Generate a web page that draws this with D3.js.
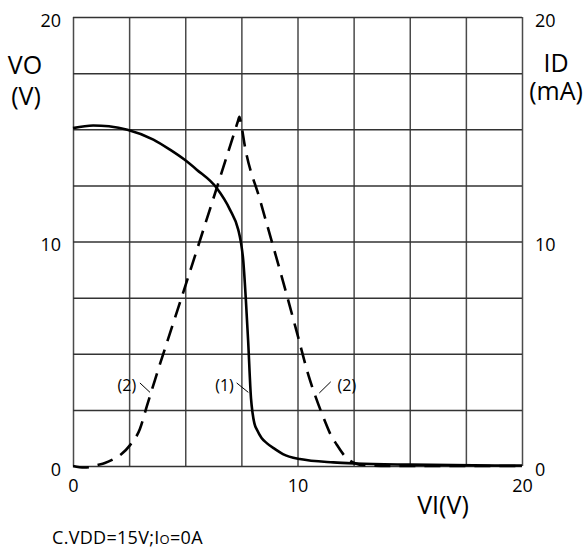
<!DOCTYPE html>
<html>
<head>
<meta charset="utf-8">
<script src="https://cdn.jsdelivr.net/npm/d3@7"></script>
<style>
  body { margin: 0; background: #fff; }
  text { font-family: "Open Sans", sans-serif; fill: #000; }
</style>
</head>
<body>
<svg id="chart" width="587" height="551"></svg>
<script>
// curve (1): output voltage VO (V) vs input VI (V)
var vo_vi = [0, 0.9, 1.6, 2.42, 3.58, 4.32, 4.96, 5.51, 6.4, 6.99, 7.36, 7.48, 7.58, 7.7, 7.8, 7.93, 8.0, 8.08, 8.2, 8.4, 8.63, 9.0, 9.35, 10.1, 11.6, 12.6, 15, 20];
var vo = [15.05, 15.17, 15.13, 14.98, 14.54, 14.09, 13.65, 13.2, 12.38, 11.42, 10.53, 9.96, 9.19, 7.4, 5.6, 3.0, 2.35, 1.9, 1.6, 1.25, 1.02, 0.75, 0.53, 0.31, 0.16, 0.11, 0.06, 0.02];

// curve (2): drain current ID (mA) vs VI (V)
var id_vi = [0, 0.5, 0.82, 1.0, 1.42, 1.8, 2.16, 2.55, 2.98, 3.3, 3.65, 4.9, 5.8, 7.35, 7.41, 7.47, 7.66, 8.33, 9.5, 10.0, 10.5, 10.8, 11.2, 11.5, 11.75, 12.1, 12.56, 13.0, 14, 20];
var id = [0, -0.07, -0.04, 0.02, 0.13, 0.3, 0.53, 0.94, 1.65, 2.7, 3.83, 7.7, 10.5, 15.37, 15.56, 15.33, 14.22, 11.85, 7.7, 5.85, 4.0, 3.1, 2.05, 1.35, 0.95, 0.45, 0.12, 0.03, 0, 0];

var gridTicks = [0, 2.5, 5, 7.5, 10, 12.5, 15, 17.5, 20];
var labelTicks = [0, 10, 20];

// curve labels: text position and leader line, in data units
var notes = [
  { text: "(2)", tx: 2.4, ty: 3.6, x1: 2.98, y1: 3.7, x2: 3.43, y2: 3.28 },
  { text: "(1)", tx: 6.75, ty: 3.6, x1: 7.29, y1: 3.7, x2: 7.81, y2: 3.28 },
  { text: "(2)", tx: 12.2, ty: 3.6, x1: 11.48, y1: 3.75, x2: 10.97, y2: 3.25 }
];

var plotL = 73, plotR = 522, plotT = 17, plotB = 466;

var svg = d3.select("#chart");

var x = d3.scaleLinear().domain([0, 20]).range([plotL, plotR]);
var y = d3.scaleLinear().domain([0, 20]).range([plotB, plotT]);

// grid
svg.append("g")
  .attr("transform", `translate(0,${plotB})`)
  .call(d3.axisBottom(x).tickValues(gridTicks).tickSize(-(plotB - plotT)).tickFormat(""))
  .call(g => g.select(".domain").remove())
  .selectAll("line").attr("stroke", "#4a4a4a").attr("stroke-width", 1.5);

svg.append("g")
  .attr("transform", `translate(${plotL},0)`)
  .call(d3.axisLeft(y).tickValues(gridTicks).tickSize(-(plotR - plotL)).tickFormat(""))
  .call(g => g.select(".domain").remove())
  .selectAll("line").attr("stroke", "#333").attr("stroke-width", 1.5);

// tick labels
function styleTicks(g) {
  g.select(".domain").remove();
  g.selectAll("text").style("font-size", "18px").attr("fill", "#000");
}
svg.append("g")
  .attr("transform", `translate(${plotL},0)`)
  .call(d3.axisLeft(y).tickValues(labelTicks).tickSize(0).tickPadding(12).tickFormat(d3.format("d")))
  .call(styleTicks)
  .selectAll("text").attr("dy", "0.5em");

svg.append("g")
  .attr("transform", `translate(${plotR},0)`)
  .call(d3.axisRight(y).tickValues(labelTicks).tickSize(0).tickPadding(13).tickFormat(d3.format("d")))
  .call(styleTicks)
  .selectAll("text").attr("dy", "0.5em");

svg.append("g")
  .attr("transform", `translate(0,${plotB})`)
  .call(d3.axisBottom(x).tickValues(labelTicks).tickSize(0).tickPadding(13).tickFormat(d3.format("d")))
  .call(styleTicks);

// curves
var solid = d3.line()
  .x((d, i) => x(vo_vi[i]))
  .y(d => y(d))
  .curve(d3.curveMonotoneX);

svg.append("path")
  .attr("d", solid(vo))
  .attr("fill", "none")
  .attr("stroke", "#000")
  .attr("stroke-width", 2.6);

var dashed = d3.line()
  .x((d, i) => x(id_vi[i]))
  .y(d => y(d))
  .curve(d3.curveMonotoneX);

svg.append("path")
  .attr("d", dashed(id))
  .attr("fill", "none")
  .attr("stroke", "#000")
  .attr("stroke-width", 2.6)
  .attr("stroke-dasharray", "16,9");

// curve labels
var note = svg.append("g").selectAll("g").data(notes).enter().append("g");
note.append("text")
  .attr("x", d => x(d.tx))
  .attr("y", d => y(d.ty))
  .attr("dy", "0.36em")
  .style("text-anchor", "middle")
  .style("font-size", "16px")
  .text(d => d.text);
note.append("line")
  .attr("x1", d => x(d.x1)).attr("y1", d => y(d.y1))
  .attr("x2", d => x(d.x2)).attr("y2", d => y(d.y2))
  .attr("stroke", "#000").attr("stroke-width", 1);

// axis titles
svg.append("text").attr("x", 25).attr("y", 74).style("text-anchor", "middle").style("font-size", "25px").text("VO");
svg.append("text").attr("x", 26).attr("y", 105).style("text-anchor", "middle").style("font-size", "25px").text("(V)");
svg.append("text").attr("x", 556).attr("y", 72).style("text-anchor", "middle").style("font-size", "25px").text("ID");
svg.append("text").attr("x", 556).attr("y", 100).style("text-anchor", "middle").style("font-size", "25px").text("(mA)");
svg.append("text").attr("x", 443).attr("y", 514).style("text-anchor", "middle").style("font-size", "25px").text("VI(V)");

// condition note
var cap = svg.append("text").attr("x", 52).attr("y", 544).style("font-size", "18px").style("letter-spacing", "0.3px");
cap.append("tspan").text("C.VDD=15V;I");
cap.append("tspan").style("font-size", "13px").text("O");
cap.append("tspan").text("=0A");
</script>
</body>
</html>
